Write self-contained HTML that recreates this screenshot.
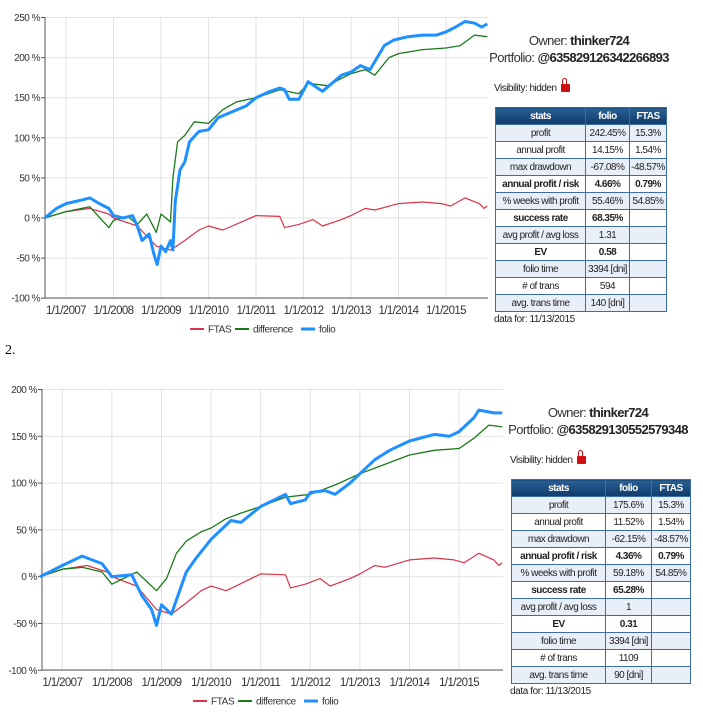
<!DOCTYPE html>
<html><head><meta charset="utf-8">
<style>
body{margin:0;width:703px;height:715px;background:#fff;position:relative;overflow:hidden;font-family:"Liberation Sans",sans-serif;}
svg{position:absolute;left:0;}
.info{position:absolute;text-align:center;color:#333;font-size:13px;line-height:17px;letter-spacing:-0.6px;white-space:nowrap}
.info b{color:#222}
.vis{position:absolute;font-size:10px;color:#222;letter-spacing:-0.5px;white-space:nowrap}
.lock{display:inline-block;width:9px;height:8px;background:#d01010;border-radius:1px;position:relative;top:1px;margin-left:2px}
.lock:before{content:"";position:absolute;left:1.5px;top:-6px;width:3px;height:5px;border:1.5px solid #d01010;border-bottom:none;border-radius:4px 4px 0 0}
table{position:absolute;border-collapse:collapse;table-layout:fixed;font-size:10px;letter-spacing:-0.5px;color:#222}
td,th{border:1px solid #3b6ea8;text-align:center;padding:0;height:16px;white-space:nowrap;overflow:hidden}
th{background:linear-gradient(#2a5f94,#0f3b6a);color:#fff;font-weight:bold}
tr:nth-child(even) td{background:#e9eff9}
tr:nth-child(odd) td{background:#fff}
.b{font-weight:bold}
.foot{position:absolute;font-size:10px;color:#222;letter-spacing:-0.4px}
</style></head><body>
<svg id="c1" width="703" height="345" style="top:0"></svg>
<svg id="c2" width="703" height="715" style="top:0"></svg>

<div class="info" style="left:479px;top:32px;width:200px">Owner: <b>thinker724</b><br>Portfolio: <b>@635829126342266893</b></div>
<div class="vis" style="left:494px;top:83px">Visibility: hidden <span class="lock"></span></div>
<table style="left:495px;top:107px;width:171px">
<colgroup><col style="width:90px"><col style="width:44px"><col style="width:37px"></colgroup>
<tr><th>stats</th><th>folio</th><th>FTAS</th></tr>
<tr><td>profit</td><td>242.45%</td><td>15.3%</td></tr>
<tr><td>annual profit</td><td>14.15%</td><td>1.54%</td></tr>
<tr><td>max drawdown</td><td>-67.08%</td><td>-48.57%</td></tr>
<tr class="b"><td>annual profit / risk</td><td>4.66%</td><td>0.79%</td></tr>
<tr><td>% weeks with profit</td><td>55.46%</td><td>54.85%</td></tr>
<tr class="b"><td>success rate</td><td>68.35%</td><td></td></tr>
<tr><td>avg profit / avg loss</td><td>1.31</td><td></td></tr>
<tr class="b"><td>EV</td><td>0.58</td><td></td></tr>
<tr><td>folio time</td><td>3394 [dni]</td><td></td></tr>
<tr><td># of trans</td><td>594</td><td></td></tr>
<tr><td>avg. trans time</td><td>140 [dni]</td><td></td></tr>
</table>
<div class="foot" style="left:494px;top:314px">data for: 11/13/2015</div>

<div style="position:absolute;left:5px;top:343px;font-family:'Liberation Serif',serif;font-size:14px">2.</div>

<div class="info" style="left:498px;top:404px;width:200px">Owner: <b>thinker724</b><br>Portfolio: <b>@635829130552579348</b></div>
<div class="vis" style="left:510px;top:455px">Visibility: hidden <span class="lock"></span></div>
<table style="left:511px;top:479px;width:179px">
<colgroup><col style="width:94px"><col style="width:46px"><col style="width:39px"></colgroup>
<tr><th>stats</th><th>folio</th><th>FTAS</th></tr>
<tr><td>profit</td><td>175.6%</td><td>15.3%</td></tr>
<tr><td>annual profit</td><td>11.52%</td><td>1.54%</td></tr>
<tr><td>max drawdown</td><td>-62.15%</td><td>-48.57%</td></tr>
<tr class="b"><td>annual profit / risk</td><td>4.36%</td><td>0.79%</td></tr>
<tr><td>% weeks with profit</td><td>59.18%</td><td>54.85%</td></tr>
<tr class="b"><td>success rate</td><td>65.28%</td><td></td></tr>
<tr><td>avg profit / avg loss</td><td>1</td><td></td></tr>
<tr class="b"><td>EV</td><td>0.31</td><td></td></tr>
<tr><td>folio time</td><td>3394 [dni]</td><td></td></tr>
<tr><td># of trans</td><td>1109</td><td></td></tr>
<tr><td>avg. trans time</td><td>90 [dni]</td><td></td></tr>
</table>
<div class="foot" style="left:510px;top:686px">data for: 11/13/2015</div>

<script>
const xTickLabels=["1/1/2007","1/1/2008","1/1/2009","1/1/2010","1/1/2011","1/1/2012","1/1/2013","1/1/2014","1/1/2015"];
const xTickYears=[2007,2008,2009,2010,2011,2012,2013,2014,2015];
const yTicks1=[250,200,150,100,50,0,-50,-100];
const yTicks2=[200,150,100,50,0,-50,-100];

const folio1T=[2006.55,2006.8,2007.0,2007.3,2007.5,2007.7,2007.9,2008.0,2008.2,2008.4,2008.5,2008.6,2008.75,2008.85,2008.92,2009.0,2009.1,2009.2,2009.25,2009.3,2009.4,2009.5,2009.6,2009.8,2010.0,2010.2,2010.4,2010.6,2010.8,2011.0,2011.3,2011.5,2011.6,2011.7,2011.9,2012.1,2012.3,2012.4,2012.6,2012.8,2013.0,2013.2,2013.4,2013.5,2013.7,2013.9,2014.2,2014.5,2014.8,2015.0,2015.2,2015.4,2015.6,2015.75,2015.87];
const folio1V=[0,12,18,22,25,18,12,3,0,3,-10,-28,-20,-45,-58,-35,-42,-28,-40,20,60,70,95,108,110,125,130,135,140,150,158,162,160,148,148,170,162,158,168,178,182,190,185,195,215,222,226,228,228,232,238,245,243,238,242];
const diff1T=[2006.55,2007.0,2007.5,2007.9,2008.0,2008.3,2008.5,2008.7,2008.9,2009.0,2009.2,2009.25,2009.35,2009.5,2009.7,2010.0,2010.3,2010.6,2011.0,2011.5,2011.9,2012.1,2012.5,2013.0,2013.3,2013.5,2013.8,2014.0,2014.5,2015.0,2015.3,2015.6,2015.87];
const diff1V=[0,8,14,-12,-3,2,-8,5,-18,5,-5,50,95,103,120,118,135,145,150,160,155,168,165,180,185,178,200,205,210,212,215,228,226];
const ftasT=[2006.55,2007.0,2007.5,2007.9,2008.0,2008.5,2008.9,2009.2,2009.5,2009.8,2010.0,2010.3,2010.5,2011.0,2011.5,2011.6,2011.9,2012.2,2012.4,2012.8,2013.0,2013.3,2013.5,2014.0,2014.5,2014.9,2015.1,2015.4,2015.7,2015.8,2015.87];
const ftasV=[0,8,12,5,0,-10,-35,-40,-28,-15,-10,-15,-10,3,2,-12,-8,-2,-10,-2,3,12,10,18,20,18,15,25,18,12,15];

const folio2T=[2006.55,2007.0,2007.4,2007.8,2008.0,2008.4,2008.6,2008.8,2008.9,2009.0,2009.2,2009.4,2009.5,2009.7,2010.0,2010.2,2010.4,2010.6,2011.0,2011.5,2011.6,2011.9,2012.0,2012.3,2012.5,2012.8,2013.0,2013.3,2013.6,2014.0,2014.5,2014.8,2015.0,2015.3,2015.4,2015.7,2015.87];
const folio2V=[0,12,22,14,0,2,-20,-35,-52,-30,-40,-10,5,20,40,50,60,58,75,88,78,82,90,92,88,100,110,125,135,145,152,150,155,170,178,175,175];
const diff2T=[2006.55,2007.0,2007.4,2007.8,2008.0,2008.5,2008.9,2009.1,2009.3,2009.5,2009.8,2010.0,2010.3,2010.6,2011.0,2011.5,2012.0,2012.5,2013.0,2013.5,2014.0,2014.5,2015.0,2015.3,2015.6,2015.87];
const diff2V=[0,8,10,5,-8,5,-15,-2,25,38,48,52,62,68,75,85,88,98,110,120,130,135,137,148,162,160];

const NS="http://www.w3.org/2000/svg";
function mk(svg,tag,attrs){const e=document.createElementNS(NS,tag);for(const k in attrs)e.setAttribute(k,attrs[k]);svg.appendChild(e);return e;}

function drawChart(svg,g,yTicks,series,idx){
  const xS=t=>g.x2007+(t-2007)*g.pxYear;
  const yS=v=>g.y0-v*g.pxPct;
  yTicks.forEach(v=>{
    const l=mk(svg,'line',{x1:g.left,x2:g.right,y1:yS(v),y2:yS(v),stroke:'#e2e2e2','stroke-width':1});
    
    
    const tk=mk(svg,'line',{x1:g.left-4,x2:g.left,y1:yS(v),y2:yS(v),stroke:'#555'});
    
    
    const tx=mk(svg,'text',{x:g.left-5,y:yS(v)+3.5,'text-anchor':'end','font-size':10,fill:'#333','letter-spacing':'-0.5'});
    tx.textContent=v+' %';
    
    
  });
  xTickYears.forEach((yr,i)=>{
    const l=mk(svg,'line',{x1:xS(yr),x2:xS(yr),y1:g.top,y2:g.bottom,stroke:'#e2e2e2'});
    
    
    const tx=mk(svg,'text',{x:xS(yr),y:g.bottom+16,'text-anchor':'middle','font-size':11.5,fill:'#333','letter-spacing':'-0.6'});
    tx.textContent=xTickLabels[i];
    
    
  });
  const ax=mk(svg,'path',{d:`M${g.left},${g.top}V${g.bottom}H${g.right}`,fill:'none',stroke:'#555'});
  
  
  series.forEach(s=>{
    let d='';s.t.forEach((t,i)=>{d+=(i?'L':'M')+xS(t).toFixed(1)+','+yS(s.v[i]).toFixed(1);});
    const p=mk(svg,'path',{d:d,fill:'none',stroke:s.c,'stroke-width':s.w,'stroke-linejoin':'round'});
    
    
  });
  let lx=g.legendX;
  [["FTAS","#d9344a",2],["difference","#1a7a1a",2],["folio","#1e90ff",3]].forEach(e=>{
    const l=mk(svg,'line',{x1:lx,x2:lx+14,y1:g.legendY,y2:g.legendY,stroke:e[1],'stroke-width':e[2]});
    
    
    const tx=mk(svg,'text',{x:lx+18,y:g.legendY+3.5,'font-size':10,fill:'#333','letter-spacing':'-0.4'});
    tx.textContent=e[0];
    
    
    lx+=e[0]==="FTAS"?45:(e[0]==="difference"?66:0);
  });
}
drawChart(document.getElementById('c1'),{left:45,right:488,top:17,bottom:298,y0:218,pxPct:0.802,x2007:66,pxYear:47.5,legendX:190,legendY:329},yTicks1,
 [{t:ftasT,v:ftasV,c:'#d9344a',w:1.2,name:'ftas'},{t:diff1T,v:diff1V,c:'#1a7a1a',w:1.3,name:'difference'},{t:folio1T,v:folio1V,c:'#1e90ff',w:3,name:'folio'}],1);
drawChart(document.getElementById('c2'),{left:42,right:503,top:389,bottom:670,y0:576.7,pxPct:0.936,x2007:62.3,pxYear:49.6,legendX:193,legendY:701},yTicks2,
 [{t:ftasT,v:ftasV,c:'#d9344a',w:1.2,name:'ftas'},{t:diff2T,v:diff2V,c:'#1a7a1a',w:1.3,name:'difference'},{t:folio2T,v:folio2V,c:'#1e90ff',w:3,name:'folio'}],2);
</script>
</body></html>
